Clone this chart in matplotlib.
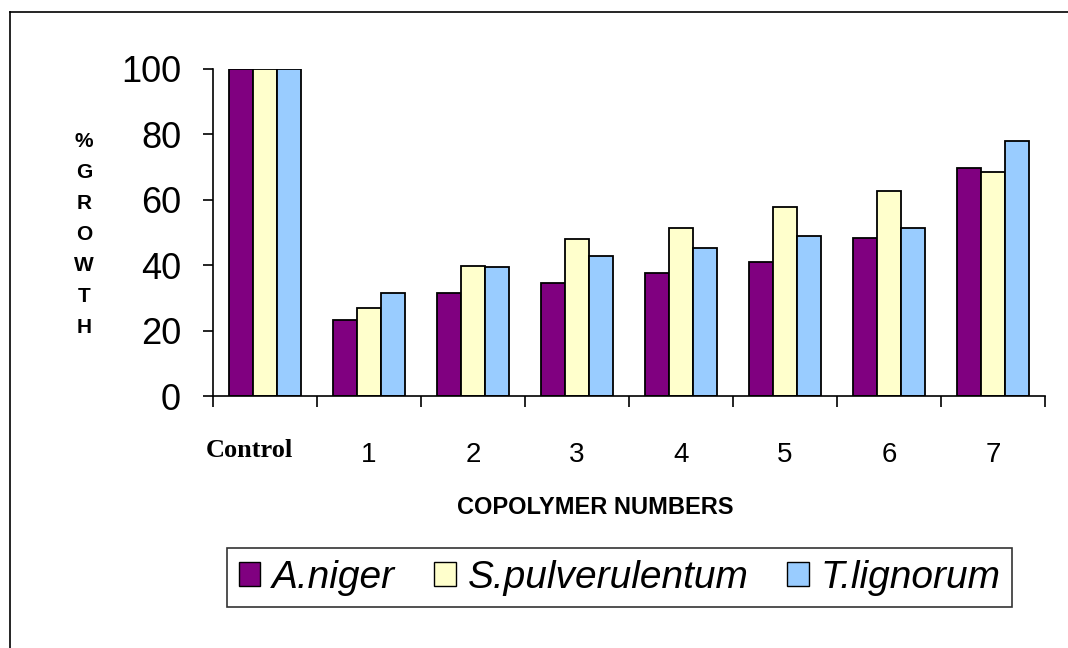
import numpy as np
import matplotlib
matplotlib.use('Agg')
import matplotlib.pyplot as plt
import matplotlib.transforms as mtransforms
from matplotlib.lines import Line2D

# -----------------------------------------------------------------------------

categories = ['Control', '1', '2', '3', '4', '5', '6', '7']
a_niger = [100, 23.2, 31.6, 34.5, 37.5, 41.1, 48.4, 69.6]
s_pulverulentum = [100, 26.8, 39.9, 48.1, 51.3, 57.7, 62.7, 68.5]
t_lignorum = [100, 31.6, 39.3, 42.8, 45.2, 48.8, 51.3, 78.1]

series_names = ['A.niger', 'S.pulverulentum', 'T.lignorum']
colors = ['#800080', '#FFFFCC', '#99CCFF']

# -----------------------------------------------------------------------------

plt.rcParams['font.family'] = ['Liberation Sans', 'DejaVu Sans']

fig = plt.figure(figsize=(10.68, 6.48), dpi=100)
ax = fig.add_axes([213 / 1068, 1 - 396 / 648, 832 / 1068, 327 / 648])

x = np.arange(len(categories))
w = 0.228
for i, (vals, name, c) in enumerate(zip([a_niger, s_pulverulentum, t_lignorum],
                                        series_names, colors)):
    ax.bar(x + (i - 1) * w, vals, width=w, color=c, edgecolor='black',
           linewidth=1.3, label=name)

ax.set_xlim(-0.5, len(categories) - 0.5)
ax.set_ylim(0, 100)

for s in ['top', 'right']:
    ax.spines[s].set_visible(False)
for s in ['left', 'bottom']:
    ax.spines[s].set_linewidth(1.2)

ax.set_yticks([0, 20, 40, 60, 80, 100])
ax.tick_params(axis='y', direction='out', length=7, width=1.2, pad=16,
               labelsize=26)

# labels at group centres, ticks at group boundaries
ax.set_xticks(x)
ax.set_xticklabels(categories)
ax.set_xticks(np.arange(len(categories) + 1) - 0.5, minor=True)
ax.tick_params(axis='x', which='major', length=0, pad=33, labelsize=20)
ax.tick_params(axis='x', which='minor', direction='out', length=8, width=1.2)
shift = mtransforms.ScaledTranslation(-16 / 100, 3 / 100, fig.dpi_scale_trans)
for lab in ax.get_xticklabels():
    if lab.get_text() == 'Control':
        lab.set_fontfamily(['Liberation Serif', 'DejaVu Serif'])
        lab.set_fontweight('bold')
        lab.set_fontsize(19)
        lab.set_transform(lab.get_transform() + shift)

ax.set_xlabel('COPOLYMER NUMBERS', fontsize=17, fontweight='bold')
ax.xaxis.set_label_coords((595 - 213) / 832, (396 - 508) / 327)
ax.xaxis.label.set_va('center')

fig.text(84 / 1068, 1 - 234 / 648, '%\nG\nR\nO\nW\nT\nH', ha='center',
         va='center', fontsize=15, fontweight='bold', linespacing=1.8,
         multialignment='center')

leg = ax.legend(loc='center left', bbox_to_anchor=(227 / 1068, 1 - 577.5 / 648),
                bbox_transform=fig.transFigure, ncol=3,
                prop={'style': 'italic', 'size': 28},
                frameon=True, fancybox=False, shadow=False, borderaxespad=0,
                handlelength=0.56, handleheight=0.56, handletextpad=0.3,
                columnspacing=1.0, borderpad=0.3)
leg.get_frame().set_edgecolor('black')
leg.get_frame().set_linewidth(1.2)
for p in leg.get_patches():
    p.set_linewidth(1.0)

# outer frame (left and top edges visible in the original)
fig.add_artist(Line2D([10 / 1068, 10 / 1068], [0, 1 - 12 / 648],
                      transform=fig.transFigure, color='black', lw=1.2))
fig.add_artist(Line2D([10 / 1068, 1], [1 - 12 / 648, 1 - 12 / 648],
                      transform=fig.transFigure, color='black', lw=1.2))

fig.savefig('out.png', dpi=100)
